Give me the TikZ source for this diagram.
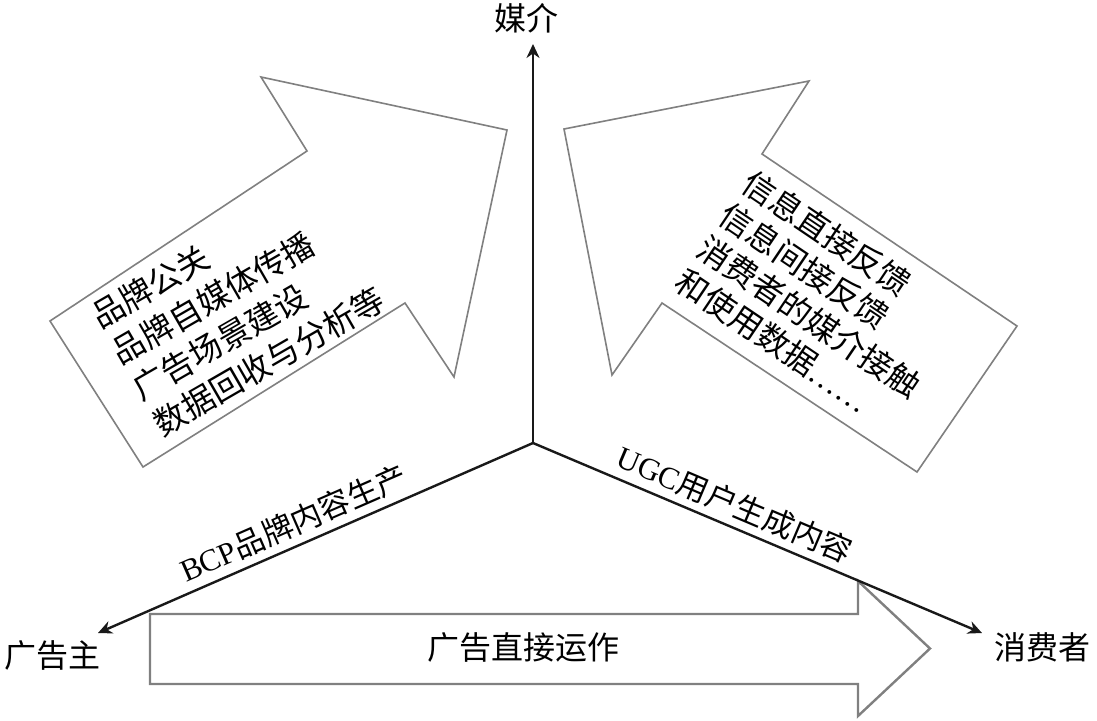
\documentclass[tikz,border=0pt]{standalone}
\usepackage{fontspec}
\setmainfont{Noto Sans CJK SC}
\newfontfamily\lat{Liberation Serif}
\usetikzlibrary{arrows.meta}
\tikzset{
  blockarrow/.style={draw=black!50, line width=1.6pt, fill=white, line join=miter},
  axis/.style={draw=black!90, line width=2.4pt},
  >={Stealth[length=14pt,width=13pt]},
  lbl/.style={font=\fontsize{32}{38}\selectfont, inner sep=0pt},
  blocktxt/.style={font=\fontsize{32.5}{40}\selectfont, inner sep=0pt, anchor=base west},
  axislbl/.style={font=\fontsize{31}{36}\selectfont, inner sep=0pt}
}
\begin{document}
\begin{tikzpicture}[x=1pt,y=-1pt]
\useasboundingbox[fill=white] (0,0) rectangle (1097,720);

% left block arrow
\draw[blockarrow] (50,321) -- (143,467) -- (405,303) -- (454,377) -- (507,130)
  -- (261,77) -- (307,151) -- cycle;
% right block arrow
\draw[blockarrow] (564,129) -- (809,81) -- (762,154) -- (1017,326) -- (917,472)
  -- (662,303) -- (612,375) -- cycle;
% bottom block arrow
\draw[blockarrow, line width=2.4pt] (150,614) -- (858,614) -- (858,581) -- (930,648.5)
  -- (858,716) -- (858,684) -- (150,684) -- cycle;

% left block text
\node[blocktxt, rotate=30] (l1) at (100,330) {品牌公关};
\node[blocktxt, rotate=30] (l2) at (120.7,365.7) {品牌自媒体传播};
\node[blocktxt, rotate=30] (l3) at (141.4,401.4) {广告场景建设};
\node[blocktxt, rotate=30] (l4) at (162.1,437.1) {数据回收与分析等};

% right block text
\node[blocktxt, rotate=-34] (r1) at (739,189) {信息直接反馈};
\node[blocktxt, rotate=-34] (r2) at (716.7,221.7) {信息间接反馈};
\node[blocktxt, rotate=-34] (r3) at (694.4,254.4) {消费者的媒介接触};
\node[blocktxt, rotate=-34] (r4) at (672.1,287.1) {和使用数据{\lat ……}};

% bottom arrow text
\node[lbl] (direct) at (523,647) {广告直接运作};

% axes
\coordinate (O) at (533,443);
\coordinate (mTip) at (533,44);
\coordinate (aTip) at (98,633);
\coordinate (cTip) at (982,633);
\node[lbl] (media) at (526,18) {媒介};
\node[lbl] (adv) at (53,655) {广告主};
\node[lbl] (con) at (1042,647) {消费者};

\draw[axis, ->] (O) -- (mTip);
\draw[axis, <-] (aTip) -- node[axislbl, pos=0.47, sloped, above=7pt] {{\lat BCP}品牌内容生产} (O);
\draw[axis, ->] (O) -- node[axislbl, pos=0.43, sloped, above=7pt] {{\lat UGC}用户生成内容} (cTip);
\end{tikzpicture}
\end{document}
